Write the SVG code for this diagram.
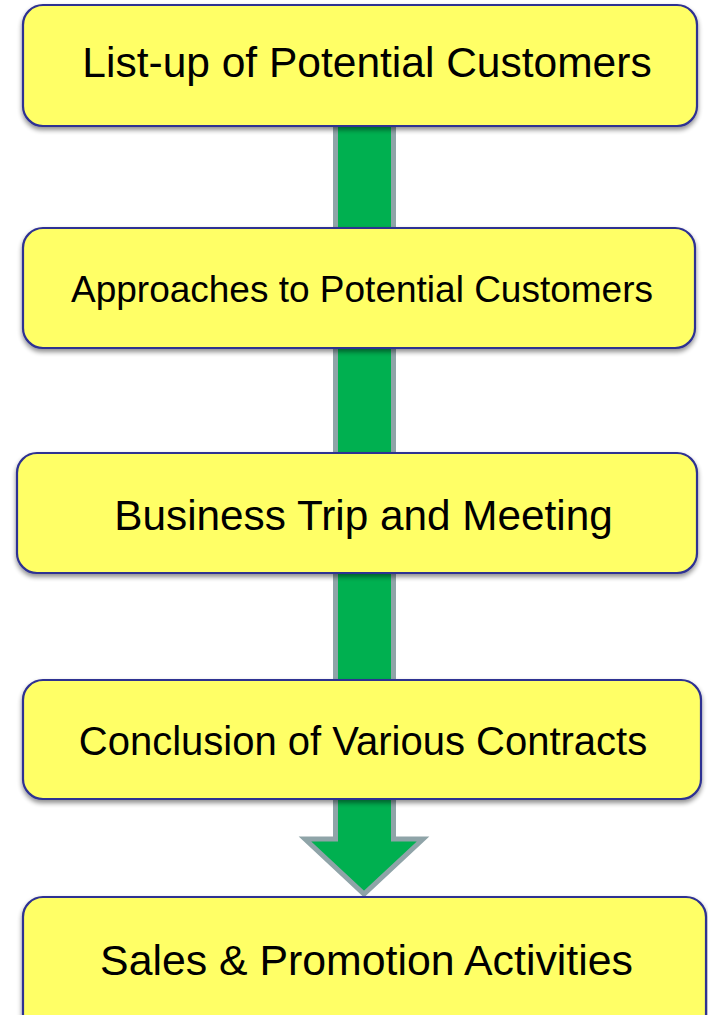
<svg xmlns="http://www.w3.org/2000/svg" width="708" height="1015" viewBox="0 0 708 1015">
<defs>
<filter id="sh" x="-5%" y="-10%" width="110%" height="130%">
<feGaussianBlur in="SourceAlpha" stdDeviation="2.5"/>
<feOffset dx="0" dy="3" result="b"/>
<feComponentTransfer><feFuncA type="linear" slope="0.45"/></feComponentTransfer>
<feMerge><feMergeNode/><feMergeNode in="SourceGraphic"/></feMerge>
</filter>
</defs>
<style>
.box{fill:#ffff66;stroke:#2e3192;stroke-width:2.2;filter:url(#sh)}
.lbl{font-family:"Liberation Sans",Arial,sans-serif;fill:#000;text-anchor:middle}
.shaft{fill:#00b050;stroke:#8fa4a8;stroke-width:5;stroke-linejoin:miter}
</style>
<rect width="708" height="1015" fill="#fff"/>
<g id="connectors">
<rect class="shaft" x="335.5" y="120" width="58" height="112"/>
<rect class="shaft" x="335.5" y="342" width="58" height="115"/>
<rect class="shaft" x="335.5" y="567" width="58" height="117"/>
<polygon class="shaft" points="335.5,795 335.5,839 305,839 364,894 423,839 393.5,839 393.5,795"/>
</g>
<g id="n1">
<rect class="box" x="23" y="5" width="674" height="121" rx="20"/>
<text class="lbl" x="367" y="77" font-size="42.5">List-up of Potential Customers</text>
</g>
<g id="n2">
<rect class="box" x="23" y="228" width="672" height="120" rx="20"/>
<text class="lbl" x="362" y="302" font-size="37">Approaches to Potential Customers</text>
</g>
<g id="n3">
<rect class="box" x="17" y="453" width="680" height="120" rx="20"/>
<text class="lbl" x="363.5" y="530" font-size="42.3">Business Trip and Meeting</text>
</g>
<g id="n4">
<rect class="box" x="23" y="680" width="678" height="119" rx="20"/>
<text class="lbl" x="363" y="755" font-size="40">Conclusion of Various Contracts</text>
</g>
<g id="n5">
<rect class="box" x="23" y="897" width="683" height="140" rx="20"/>
<text class="lbl" x="366.5" y="975" font-size="42.8">Sales &amp; Promotion Activities</text>
</g>
</svg>
